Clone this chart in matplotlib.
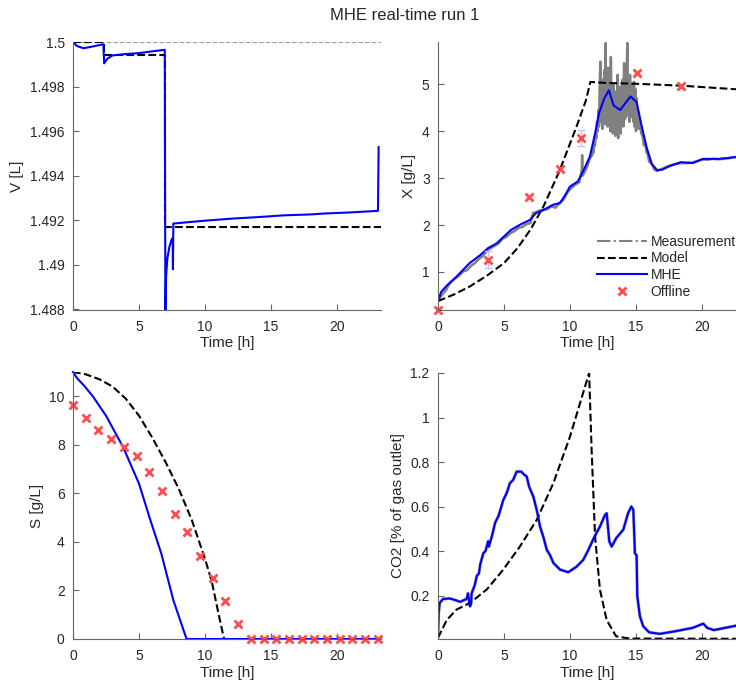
import matplotlib
matplotlib.use("Agg")
import matplotlib.pyplot as plt
from matplotlib.lines import Line2D
from matplotlib.ticker import FormatStrFormatter

plt.rcParams['font.family'] = ['Liberation Sans', 'DejaVu Sans']
plt.rcParams['font.size'] = 10

# === Volume V [L] ===
v_meas_t = [0, 23.3]
v_meas = [1.5, 1.5]
v_model_t = [0, 2.33, 2.33, 7.0, 7.0, 23.3]
v_model = [1.5, 1.5, 1.49942, 1.49942, 1.49168, 1.49168]
v_mhe_t = [0, 0.3, 0.8, 1.5, 2.3, 2.36, 2.6, 3.0, 4.0, 5.0, 6.0, 6.95, 7.0,
           7.05, 7.15, 7.3, 7.45, 7.55, 7.57, 7.6, 8.5, 10, 12, 14, 16, 18, 19, 21, 23.1, 23.15]
v_mhe = [1.5, 1.49982, 1.49972, 1.4998, 1.4999, 1.49904, 1.49925, 1.4994, 1.49946,
         1.4995, 1.49958, 1.49965, 1.4875, 1.4895, 1.4903, 1.4908, 1.4911, 1.4912,
         1.4898, 1.49185, 1.4919, 1.49198, 1.49207, 1.49214, 1.49222, 1.49226,
         1.4923, 1.49235, 1.49242, 1.49528]

# === Biomass X [g/L] ===
x_meas_t = [0, 0.2, 0.4, 0.6, 0.8, 1.0, 1.3, 1.6, 1.9, 2.2, 2.5, 2.8, 3.1, 3.4, 3.7,
            4.0, 4.3, 4.6, 4.9, 5.2, 5.5, 5.8, 6.1, 6.4, 6.7, 7.0, 7.2, 7.4, 7.7,
            8.0, 8.3, 8.6, 8.9, 9.2, 9.5, 9.8, 10.1, 10.4, 10.7, 10.9, 10.92, 10.95,
            11.1, 11.3, 11.5,
            11.7, 11.75, 11.8, 11.85, 11.9, 11.95, 12.0, 12.05, 12.1, 12.15, 12.2,
            12.25, 12.3, 12.35, 12.4, 12.45, 12.5, 12.55, 12.6, 12.65, 12.7, 12.75,
            12.8, 12.85, 12.9, 12.95, 13.0, 13.05, 13.1, 13.15, 13.2, 13.25, 13.3,
            13.35, 13.4, 13.45, 13.5, 13.55, 13.6, 13.65, 13.7, 13.75, 13.8, 13.85,
            13.9, 13.95, 14.0, 14.05, 14.1, 14.15, 14.2, 14.25, 14.3, 14.35, 14.4,
            14.45, 14.5, 14.55, 14.6, 14.65, 14.7, 14.75, 14.8, 14.85, 14.9, 14.95,
            15.0, 15.05, 15.1, 15.15, 15.2, 15.3, 15.4, 15.5, 15.6, 15.7, 15.8, 15.9,
            16.0, 16.2, 16.4, 16.6, 16.8, 17.0, 17.3, 17.6, 18.0, 18.4, 18.8, 19.2,
            19.6, 20.0, 20.4, 20.8, 21.2, 21.6, 22.0, 22.4, 22.8, 23.2]
x_meas = [0.40, 0.47, 0.55, 0.61, 0.72, 0.79, 0.86, 0.92, 1.01, 1.04, 1.13, 1.19,
          1.28, 1.34, 1.45, 1.51, 1.56, 1.61, 1.71, 1.75, 1.83, 1.87, 1.94, 1.96,
          2.02, 2.04, 2.26, 2.27, 2.31, 2.32, 2.34, 2.40, 2.37, 2.46, 2.54, 2.69,
          2.79, 2.86, 2.91, 3.17, 3.49, 3.05, 3.12, 3.24, 3.42,
          3.50, 3.62, 3.55, 3.78, 3.70, 3.95, 3.85, 4.20, 4.00, 4.45, 4.10,
          4.90, 5.48, 4.20, 4.95, 4.05, 5.10, 4.30, 5.30, 4.15, 5.88, 4.40,
          5.20, 4.10, 5.35, 4.25, 5.05, 4.00, 5.58, 4.15, 4.90, 3.95, 5.00,
          4.10, 4.80, 3.90, 4.85, 4.05, 5.20, 3.85, 4.70, 4.00, 4.95, 3.95,
          4.75, 4.20, 5.10, 4.10, 5.45, 4.25, 5.00, 4.30, 5.30, 5.88, 4.35,
          5.05, 4.20, 5.20, 4.40, 5.00, 4.30, 4.95, 4.20, 5.05, 4.10, 4.90,
          4.00, 4.70, 4.20, 4.45, 4.05, 4.25, 3.95, 3.90, 3.70, 3.75, 3.55, 3.50,
          3.35, 3.30, 3.18, 3.15, 3.18, 3.20, 3.24, 3.27, 3.30, 3.32, 3.32, 3.33,
          3.36, 3.40, 3.39, 3.41, 3.40, 3.41, 3.42, 3.44, 3.46, 3.47]
x_model_t = [0, 1.2, 2.4, 3.7, 5.0, 6.0, 7.0, 8.0, 9.2, 10.5, 11.2, 11.55, 12.5,
             15.0, 18.4, 23.3]
x_model = [0.38, 0.52, 0.69, 0.92, 1.19, 1.50, 1.90, 2.40, 3.15, 4.10, 4.65,
           5.05, 5.03, 5.01, 4.97, 4.88]
x_mhe_t = [0, 0.25, 0.7, 1.4, 2.4, 3.2, 3.8, 4.45, 5.5, 6.3, 6.97, 7.4, 7.98, 8.7,
           9.24, 9.6, 10.0, 10.6, 11.0, 11.5, 11.9, 12.2, 12.6, 12.95, 13.3, 13.8,
           14.2, 14.6, 15.05, 15.4, 15.8, 16.2, 16.6, 17.0, 17.5, 18.4, 19.3, 20.1,
           21.3, 22.6, 23.3]
x_mhe = [0.39, 0.58, 0.72, 0.90, 1.19, 1.36, 1.51, 1.61, 1.89, 2.02, 2.11, 2.25,
         2.32, 2.43, 2.47, 2.62, 2.82, 2.93, 3.15, 3.45, 3.95, 4.38, 4.70, 4.87,
         4.55, 4.45, 4.60, 4.74, 4.62, 4.15, 3.66, 3.30, 3.17, 3.18, 3.25, 3.34,
         3.32, 3.41, 3.41, 3.45, 3.47]
x_off_t = [0.0, 3.8, 6.9, 9.25, 10.8, 15.05, 18.4]
x_off = [0.18, 1.26, 2.6, 3.19, 3.85, 5.25, 4.97]
x_off_err = [0.02, 0.18, 0.04, 0.04, 0.17, 0.04, 0.04]

# === Substrate S [g/L] ===
s_model_t = [0, 1, 2, 3, 4, 5, 6, 7, 8, 9, 10, 10.5, 11.0, 11.3, 11.45]
s_model = [11.0, 10.9, 10.7, 10.4, 9.9, 9.2, 8.3, 7.3, 6.2, 4.9, 3.3, 2.4, 1.1,
           0.35, 0.0]
s_mhe_t = [0, 0.3, 0.9, 1.5, 2.5, 3.8, 5.0, 5.8, 6.7, 7.6, 8.6, 23.3]
s_mhe = [11.0, 10.75, 10.4, 10.0, 9.2, 7.9, 6.4, 5.0, 3.5, 1.6, 0.0, 0.0]
s_off_t = [0, 0.96, 1.92, 2.89, 3.85, 4.81, 5.77, 6.73, 7.69, 8.66, 9.62, 10.58,
           11.54, 12.5, 13.47, 14.43, 15.39, 16.35, 17.31, 18.28, 19.24, 20.2,
           21.16, 22.12, 23.09]
s_off = [9.63, 9.09, 8.63, 8.23, 7.9, 7.53, 6.86, 6.08, 5.16, 4.4, 3.43, 2.51,
         1.56, 0.62, 0, 0, 0, 0, 0, 0, 0, 0, 0, 0, 0]

# === CO2 [% of gas outlet] ===
co2_model_t = [0, 0.66, 1.4, 2.42, 3.69, 4.95, 6.2, 7.48, 8.74, 10.0, 10.76,
               11.45, 11.64, 11.9, 12.27, 12.78, 13.5, 14.5, 23.3]
co2_model = [0.01, 0.09, 0.137, 0.167, 0.227, 0.317, 0.42, 0.54, 0.705, 0.914,
             1.064, 1.2, 0.855, 0.466, 0.227, 0.09, 0.017, 0.007, 0.006]
co2_mhe_t = [0, 0.05, 0.13, 0.38, 0.9, 1.3, 1.67, 2.17, 2.27, 2.32, 2.42, 2.5,
             2.55, 2.8, 2.93, 3.1, 3.2, 3.43, 3.6, 3.8, 3.85, 4.1, 4.32, 4.6,
             4.95, 5.2, 5.45, 5.7, 5.96, 6.3, 6.5, 6.72, 6.9, 7.22, 7.5, 7.73,
             8.0, 8.24, 8.5, 8.74, 9.24, 9.87, 10.5, 11.0, 11.4, 11.8, 12.27,
             12.66, 12.78, 12.98, 13.16, 13.5, 14.04, 14.4, 14.65, 14.8, 14.92,
             15.05, 15.1, 15.3, 15.55, 16.0, 16.8, 18.0, 19.3, 20.1, 20.4, 20.9,
             22.6, 23.3]
co2_mhe = [0.02, 0.12, 0.167, 0.185, 0.187, 0.18, 0.172, 0.185, 0.21, 0.19,
           0.152, 0.16, 0.21, 0.25, 0.287, 0.30, 0.34, 0.39, 0.40, 0.444, 0.42,
           0.47, 0.526, 0.56, 0.63, 0.66, 0.705, 0.72, 0.757, 0.757, 0.745,
           0.735, 0.69, 0.645, 0.58, 0.51, 0.46, 0.406, 0.38, 0.347, 0.317,
           0.305, 0.33, 0.36, 0.406, 0.458, 0.51, 0.563, 0.57, 0.444, 0.42,
           0.458, 0.496, 0.57, 0.6, 0.585, 0.39, 0.38, 0.197, 0.107, 0.062,
           0.035, 0.028, 0.04, 0.055, 0.074, 0.055, 0.045, 0.065, 0.068]

blue = '#0000ff'
gray = '#808080'
red = '#ff4d4d'
txt = '#262626'


def style(ax, xmax):
    for s in ['top', 'right']:
        ax.spines[s].set_visible(False)
    for s in ['left', 'bottom']:
        ax.spines[s].set_color('#666666')
        ax.spines[s].set_linewidth(0.8)
    ax.tick_params(direction='in', length=4, width=0.8, color='#666666',
                   labelcolor=txt, labelsize=10)
    ax.tick_params(axis='x', pad=7)
    ax.tick_params(axis='y', pad=6)
    ax.set_xlim(0, xmax)
    ax.set_xticks([0, 5, 10, 15, 20])
    ax.yaxis.set_major_formatter(FormatStrFormatter('%g'))
    ax.set_xlabel('Time [h]', color=txt, fontsize=11, labelpad=2)


fig = plt.figure(figsize=(7.36, 6.9), dpi=100)

# V
ax1 = fig.add_axes([73 / 736, 1 - 310 / 690, 308 / 736, 268 / 690])
ax1.plot(v_meas_t, v_meas, '--', color='#a0a0a0', lw=0.9)
ax1.plot(v_model_t, v_model, '--', color='k', lw=1.5)
ax1.plot(v_mhe_t, v_mhe, '-', color=blue, lw=1.5)
ax1.set_ylim(1.48797, 1.5)
ax1.set_yticks([1.488, 1.49, 1.492, 1.494, 1.496, 1.498, 1.5])
style(ax1, 23.33)
ax1.set_ylabel('V [L]', color=txt, fontsize=11)

# X
ax2 = fig.add_axes([438 / 736, 1 - 310 / 690, 298 / 736, 268 / 690])
ax2.plot(x_meas_t, x_meas, '-', color=gray, lw=1.8)
ax2.plot(x_model_t, x_model, '--', color='k', lw=1.5)
ax2.plot(x_mhe_t, x_mhe, '-', color=blue, lw=1.5)
ax2.errorbar(x_off_t, x_off, yerr=x_off_err, fmt='none', ecolor='#c4c4ff',
             elinewidth=1, capsize=3)
ax2.plot(x_off_t, x_off, 'x', color=red, ms=6, mew=2, clip_on=False)
ax2.set_ylim(0.19, 5.9)
ax2.set_yticks([1, 2, 3, 4, 5])
style(ax2, 22.58)
ax2.set_ylabel('X [g/L]', color=txt, fontsize=11)
handles = [Line2D([], [], color=gray, ls='-.', lw=1.5),
           Line2D([], [], color='k', ls='--', lw=1.5),
           Line2D([], [], color=blue, ls='-', lw=1.5),
           Line2D([], [], color=red, ls='none', marker='x', ms=6, mew=2)]
ax2.legend(handles, ['Measurement', 'Model', 'MHE', 'Offline'], loc='lower left',
           bbox_to_anchor=(597 / 736, 1 - 299 / 690), bbox_transform=fig.transFigure,
           frameon=False, handlelength=3.6, handletextpad=0.25, labelspacing=0.2,
           borderaxespad=0, borderpad=0, labelcolor=txt, fontsize=10)

# S
ax3 = fig.add_axes([73 / 736, 1 - 639 / 690, 308 / 736, 267 / 690])
ax3.plot(s_model_t, s_model, '--', color='k', lw=1.5)
ax3.plot(s_mhe_t, s_mhe, '-', color=blue, lw=1.5, clip_on=False)
ax3.plot(s_off_t, s_off, 'x', color=red, ms=6, mew=2, clip_on=False)
ax3.set_ylim(0, 11)
ax3.set_yticks([0, 2, 4, 6, 8, 10])
style(ax3, 23.33)
ax3.set_ylabel('S [g/L]', color=txt, fontsize=11)

# CO2 (measurement lies under the MHE estimate)
ax4 = fig.add_axes([438 / 736, 1 - 639 / 690, 298 / 736, 266 / 690])
ax4.plot(co2_mhe_t, co2_mhe, '-', color='#9a9a9a', lw=2.2)
ax4.plot(co2_model_t, co2_model, '--', color='k', lw=1.5)
ax4.plot(co2_mhe_t, co2_mhe, '-', color=blue, lw=1.5)
ax4.set_ylim(0.005, 1.2)
ax4.set_yticks([0.2, 0.4, 0.6, 0.8, 1, 1.2])
style(ax4, 22.58)
ax4.set_ylabel('CO2 [% of gas outlet]', color=txt, fontsize=11)

fig.text(405 / 736, 1 - 15 / 690, 'MHE real-time run 1', ha='center', va='center',
         fontsize=12, color=txt)

fig.savefig('out.png', dpi=100)
